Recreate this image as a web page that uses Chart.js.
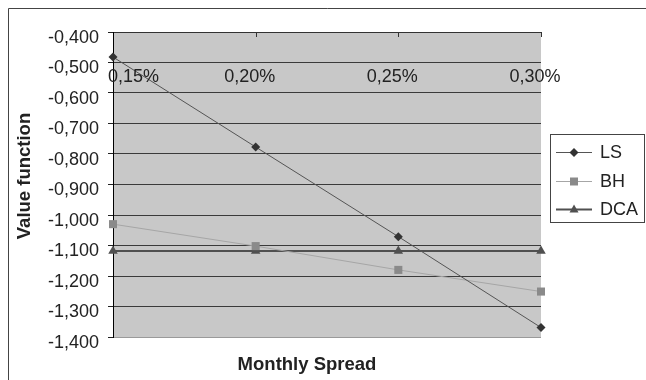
<!DOCTYPE html>
<html>
<head>
<meta charset="utf-8">
<script src="https://cdn.jsdelivr.net/npm/chart.js@4.4.1/dist/chart.umd.min.js"></script>
<style>
  html, body { margin: 0; padding: 0; background: #fff; }
  canvas { display: block; }
</style>
</head>
<body>
<canvas id="plot" width="646" height="380"></canvas>
<script>
// data
let spreads = ['0,15%', '0,20%', '0,25%', '0,30%'];
let seriesNames = ['LS', 'BH', 'DCA'];
let lsValues = [-0.482, -0.777, -1.071, -1.369];
let bhValues = [-1.030, -1.102, -1.180, -1.251];
let dcaValues = [-1.118, -1.118, -1.118, -1.118];
let yMin = -1.4;
let yMax = -0.4;
let yStep = 0.1;

let FONT = "'Liberation Sans', Arial, sans-serif";
let TEXT = '#222';

let fmt = (v) => v.toFixed(3).replace('.', ',');

// marker drawing for the hand-made legend
let drawMarker = (ctx, style, x, y, color) => {
    ctx.fillStyle = color;
    ctx.beginPath();
    if (style === 'rectRot') {
        ctx.moveTo(x, y - 4.5); ctx.lineTo(x + 4.5, y); ctx.lineTo(x, y + 4.5); ctx.lineTo(x - 4.5, y);
    } else if (style === 'rect') {
        ctx.rect(x - 4, y - 4, 8, 8);
    } else {
        ctx.moveTo(x, y - 5); ctx.lineTo(x + 4.5, y + 3); ctx.lineTo(x - 4.5, y + 3);
    }
    ctx.closePath();
    ctx.fill();
}

let excelLook = {
    id: 'excelLook',
    beforeDraw(chart) {
        let {ctx, chartArea: a} = chart;
        ctx.save();
        ctx.fillStyle = '#fff';
        ctx.fillRect(0, 0, chart.width, chart.height);
        ctx.fillStyle = '#c8c8c8';
        ctx.fillRect(a.left, a.top, a.right - a.left, a.bottom - a.top);
        ctx.restore();
    },
    afterDraw(chart) {
        let {ctx, chartArea: a} = chart;
        let xs = chart.scales.x;
        ctx.save();

        // outer frame (only left and top visible)
        ctx.strokeStyle = '#444';
        ctx.lineWidth = 1;
        ctx.beginPath();
        ctx.moveTo(8.5, chart.height); ctx.lineTo(8.5, 8.5); ctx.lineTo(chart.width, 8.5);
        ctx.stroke();

        // small inward ticks on the top category axis
        ctx.strokeStyle = '#333';
        ctx.beginPath();
        for (let i = 1; i < spreads.length; i++) {
            let px = Math.round(xs.getPixelForValue(i)) + 0.5;
            ctx.moveTo(px, a.top); ctx.lineTo(px, a.top + 5);
        }
        ctx.stroke();

        // category labels sit inside the plot, under the top axis
        ctx.fillStyle = TEXT;
        ctx.font = '18px ' + FONT;
        ctx.textBaseline = 'middle';
        for (let i = 0; i < spreads.length; i++) {
            let px = xs.getPixelForValue(i);
            if (i === 0) {
                ctx.textAlign = 'left';
                ctx.fillText(spreads[i], px - 5, 77);
            } else {
                ctx.textAlign = 'center';
                ctx.fillText(spreads[i], px - 6, 77);
            }
        }

        // axis titles
        ctx.font = 'bold 18.5px ' + FONT;
        ctx.textAlign = 'center';
        ctx.fillText('Monthly Spread', 307, 365);
        ctx.save();
        ctx.translate(25, 176);
        ctx.rotate(-Math.PI / 2);
        ctx.fillText('Value function', 0, 0);
        ctx.restore();

        // legend box
        ctx.fillStyle = '#fff';
        ctx.fillRect(550, 134, 95, 89);
        ctx.strokeStyle = '#444';
        ctx.strokeRect(550.5, 134.5, 94, 88);
        let rows = [152, 181, 209];
        chart.data.datasets.forEach((ds, i) => {
            let y = rows[i];
            ctx.strokeStyle = ds.borderColor;
            ctx.lineWidth = ds.borderWidth;
            ctx.beginPath();
            ctx.moveTo(556, y + 0.5); ctx.lineTo(592, y + 0.5);
            ctx.stroke();
            drawMarker(ctx, ds.pointStyle, 574, y + 0.5, ds.pointBackgroundColor);
            ctx.fillStyle = TEXT;
            ctx.font = '18px ' + FONT;
            ctx.textAlign = 'left';
            ctx.textBaseline = 'middle';
            ctx.fillText(ds.label, 600, y + 1);
        });
        ctx.restore();
    }
}

let config = {
    type: 'line',
    data: {
        labels: spreads,
        datasets: [
            {
                label: seriesNames[0],
                data: lsValues,
                borderColor: '#555',
                borderWidth: 1,
                pointStyle: 'rectRot',
                pointRadius: 4.5,
                pointBackgroundColor: '#333',
                pointBorderColor: '#333',
                pointBorderWidth: 0,
                clip: false
            },
            {
                label: seriesNames[1],
                data: bhValues,
                borderColor: '#a6a6a6',
                borderWidth: 1,
                pointStyle: 'rect',
                pointRadius: 5.7,
                pointBackgroundColor: '#8a8a8a',
                pointBorderColor: '#8a8a8a',
                pointBorderWidth: 0,
                clip: false
            },
            {
                label: seriesNames[2],
                data: dcaValues,
                borderColor: '#505050',
                borderWidth: 2,
                pointStyle: 'triangle',
                pointRadius: 5.5,
                pointBackgroundColor: '#505050',
                pointBorderColor: '#505050',
                pointBorderWidth: 0,
                clip: false
            }
        ]
    },
    options: {
        responsive: false,
        animation: false,
        devicePixelRatio: 1,
        layout: { padding: { left: 0, right: 105, top: 0, bottom: 43 } },
        plugins: {
            legend: { display: false },
            tooltip: { enabled: false }
        },
        scales: {
            x: {
                type: 'category',
                position: 'top',
                offset: false,
                grid: { display: false },
                border: { display: true, color: '#333', width: 1 },
                ticks: { display: false },
                afterFit: (s) => { s.height = 32; }
            },
            y: {
                min: yMin,
                max: yMax,
                ticks: {
                    stepSize: yStep,
                    padding: 9,
                    labelOffset: 6,
                    color: TEXT,
                    font: { family: FONT, size: 18 },
                    callback: (v) => fmt(v)
                },
                grid: {
                    color: (c) => (c.tick && c.tick.value < yMin + 0.01) ? '#9a9a9a' : '#3a3a3a',
                    lineWidth: 1,
                    tickLength: 5,
                    tickColor: '#222'
                },
                border: { color: '#000', width: 1 },
                afterFit: (s) => { s.width = 113; }
            }
        }
    },
    plugins: [excelLook]
}

new Chart(document.getElementById('plot'), config);
</script>
</body>
</html>
